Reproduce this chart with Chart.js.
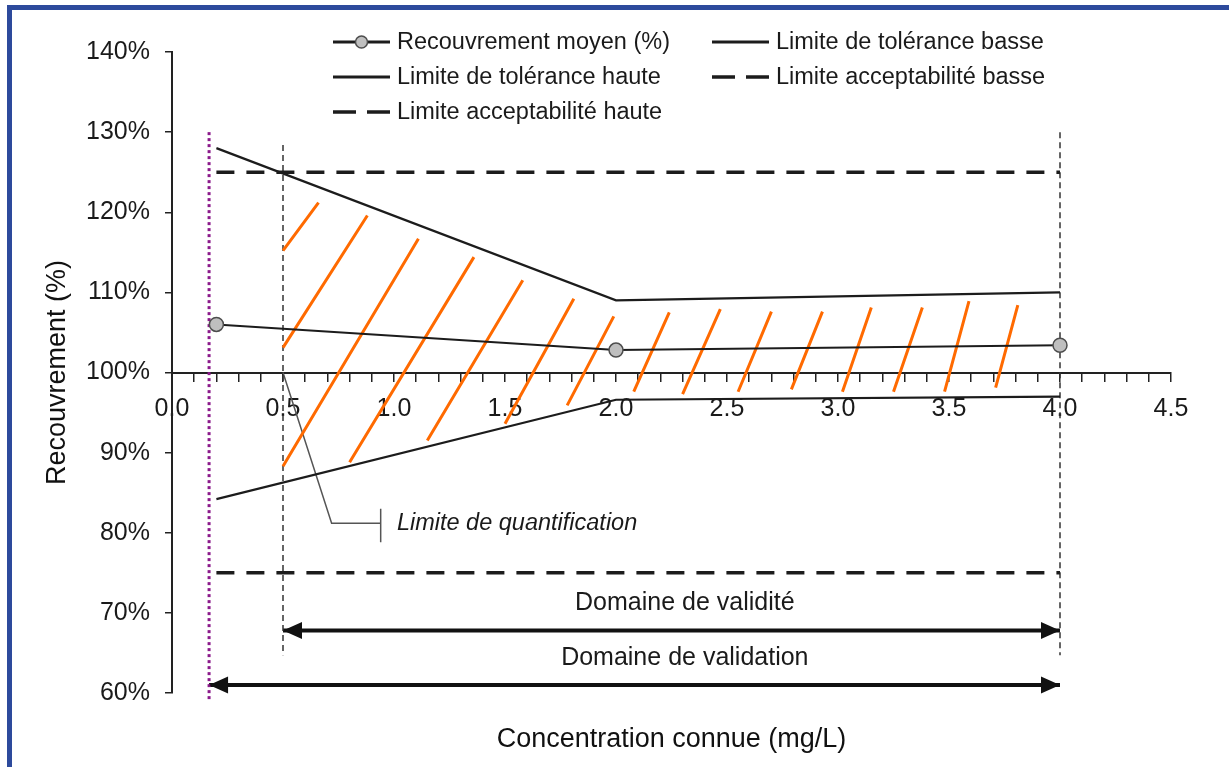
<!DOCTYPE html>
<html lang="fr">
<head>
<meta charset="utf-8">
<title>Profil d'exactitude</title>
<script src="https://cdn.jsdelivr.net/npm/chart.js@4.4.1/dist/chart.umd.min.js"></script>
<style>
    html, body { margin: 0; padding: 0; background: #fff; }
    #cadre { position: relative; width: 1229px; height: 767px; overflow: hidden; }
    #myChart { position: absolute; left: 0; top: 0; }
    #bord {
        position: absolute; left: 7px; top: 5px; right: -20px; bottom: -20px;
        border-top: 5px solid #2d4a9c; border-left: 5px solid #2d4a9c;
        pointer-events: none;
    }
</style>
</head>
<body>
<div id="cadre">
    <canvas id="myChart" width="1229" height="767"></canvas>
    <div id="bord"></div>
</div>
<script>
// valeurs
const concentrations = [0.2, 2.0, 4.0]
const recouvrementMoyen = [106.0, 102.8, 103.4]
const toleranceBasse = [84.2, 96.6, 97.0]
const toleranceHaute = [128.0, 109.0, 110.0]
const bornesAcceptabilite = [0.2, 4.0]
const acceptabiliteBasse = [75, 75]
const acceptabiliteHaute = [125, 125]
const yTicks = [60, 70, 80, 90, 100, 110, 120, 130, 140]

// traits verticaux (x, y haut, y bas)
const ligneLQ = [0.5, 128.4, 64.7]
const ligneFin = [4.0, 130, 64.7]
const ligneViolette = [0.167, 130, 59]

// fleches des domaines
const domaineValidite = [0.5, 4.0, 67.8]
const domaineValidation = [0.167, 4.0, 61.0]

// renvoi "limite de quantification"
const renvoiX = [0.5, 0.719, 0.94]
const renvoiY = [100, 81.2, 81.2]
const barreRenvoi = [0.94, 83.0, 78.8]

// hachures orange (debut, fin)
const hachuresDebut = [[0.50, 115.2], [0.50, 103.1], [0.50, 88.3], [0.80, 88.8], [1.15, 91.5], [1.50, 93.6], [1.78, 95.9],
    [2.08, 97.6], [2.30, 97.3], [2.55, 97.6], [2.79, 97.9], [3.02, 97.6], [3.25, 97.6], [3.48, 97.6], [3.71, 98.1]]
const hachuresFin = [[0.66, 121.2], [0.88, 119.6], [1.11, 116.7], [1.36, 114.4], [1.58, 111.5], [1.81, 109.2], [1.99, 107.0],
    [2.24, 107.5], [2.47, 107.9], [2.70, 107.6], [2.93, 107.6], [3.15, 108.1], [3.38, 108.1], [3.59, 108.9], [3.81, 108.4]]

const police = "'Liberation Sans', Arial, sans-serif"
const noir = '#1c1c1c'

function points(xs, ys) {
    return xs.map((x, i) => ({ x: x, y: ys[i] }))
}

let dataHachures = []
hachuresDebut.forEach((d, i) => {
    let f = hachuresFin[i]
    dataHachures.push({ x: d[0], y: d[1] }, { x: f[0], y: f[1] }, { x: f[0], y: null })
})

let dataRenvoi = points(renvoiX, renvoiY)
dataRenvoi.push({ x: barreRenvoi[0], y: null }, { x: barreRenvoi[0], y: barreRenvoi[1] }, { x: barreRenvoi[0], y: barreRenvoi[2] })

function verticale(l) {
    return [{ x: l[0], y: l[1] }, { x: l[0], y: l[2] }]
}

const datasets = [
    {
        label: 'Recouvrement moyen (%)',
        data: points(concentrations, recouvrementMoyen),
        borderColor: noir, borderWidth: 2,
        pointRadius: 7, pointBackgroundColor: '#bfbfbf', pointBorderColor: '#4d4d4d', pointBorderWidth: 1.5,
        legende: true
    },
    {
        label: 'Limite de tolérance basse',
        data: points(concentrations, toleranceBasse),
        borderColor: noir, borderWidth: 2.2, pointRadius: 0,
        legende: true
    },
    {
        label: 'Limite de tolérance haute',
        data: points(concentrations, toleranceHaute),
        borderColor: noir, borderWidth: 2.2, pointRadius: 0,
        legende: true
    },
    {
        label: 'Limite acceptabilité basse',
        data: points(bornesAcceptabilite, acceptabiliteBasse),
        borderColor: noir, borderWidth: 3.5, borderDash: [18, 12], pointRadius: 0,
        legende: true
    },
    {
        label: 'Limite acceptabilité haute',
        data: points(bornesAcceptabilite, acceptabiliteHaute),
        borderColor: noir, borderWidth: 3.5, borderDash: [18, 12], pointRadius: 0,
        legende: true
    },
    {
        label: 'hachures',
        data: dataHachures,
        borderColor: '#ff6a00', borderWidth: 3, pointRadius: 0, spanGaps: false
    },
    {
        label: 'LQ',
        data: verticale(ligneLQ),
        borderColor: '#333', borderWidth: 1.5, borderDash: [6, 4], pointRadius: 0
    },
    {
        label: 'fin',
        data: verticale(ligneFin),
        borderColor: '#333', borderWidth: 1.5, borderDash: [6, 4], pointRadius: 0
    },
    {
        label: 'violet',
        data: verticale(ligneViolette),
        borderColor: '#8b1a8b', borderWidth: 3, borderDash: [3, 3], pointRadius: 0, clip: false
    },
    {
        label: 'renvoi',
        data: dataRenvoi,
        borderColor: '#555', borderWidth: 1.5, pointRadius: 0, spanGaps: false
    },
    {
        label: 'Domaine de validité',
        data: [{ x: domaineValidite[0], y: domaineValidite[2] }, { x: domaineValidite[1], y: domaineValidite[2] }],
        borderColor: '#111', borderWidth: 4, pointRadius: 0, fleche: true
    },
    {
        label: 'Domaine de validation',
        data: [{ x: domaineValidation[0], y: domaineValidation[2] }, { x: domaineValidation[1], y: domaineValidation[2] }],
        borderColor: '#111', borderWidth: 4, pointRadius: 0, fleche: true
    }
]

const textes = [
    { texte: 'Limite de quantification', x: 1.013, y: 81.2, align: 'left', style: 'italic', taille: 23.5 },
    { texte: 'Domaine de validité', x: 2.31, y: 71.2, align: 'center', style: 'normal', taille: 25 },
    { texte: 'Domaine de validation', x: 2.31, y: 64.3, align: 'center', style: 'normal', taille: 25 }
]

// fleches au bout des domaines
const flechesPlugin = {
    id: 'fleches',
    afterDatasetsDraw(chart) {
        const ctx = chart.ctx
        chart.data.datasets.forEach((ds, i) => {
            if (!ds.fleche) return
            let pts = chart.getDatasetMeta(i).data
            let a = pts[0], b = pts[pts.length - 1]
            ctx.save()
            ctx.fillStyle = '#111'
            ctx.beginPath()
            ctx.moveTo(a.x, a.y); ctx.lineTo(a.x + 19, a.y - 8.5); ctx.lineTo(a.x + 19, a.y + 8.5); ctx.closePath()
            ctx.moveTo(b.x, b.y); ctx.lineTo(b.x - 19, b.y - 8.5); ctx.lineTo(b.x - 19, b.y + 8.5); ctx.closePath()
            ctx.fill()
            ctx.restore()
        })
    }
}

const textesPlugin = {
    id: 'textes',
    afterDatasetsDraw(chart) {
        const ctx = chart.ctx
        const sx = chart.scales.x, sy = chart.scales.y
        ctx.save()
        ctx.fillStyle = '#1a1a1a'
        ctx.textBaseline = 'middle'
        for (let t of textes) {
            ctx.font = t.style + ' ' + t.taille + 'px ' + police
            ctx.textAlign = t.align
            ctx.fillText(t.texte, sx.getPixelForValue(t.x), sy.getPixelForValue(t.y))
        }
        ctx.restore()
    }
}

// legende sur deux colonnes
const legendePlugin = {
    id: 'legende2col',
    afterDraw(chart) {
        const ctx = chart.ctx
        const colonnes = [333, 712]
        const lignes = [42, 77, 112]
        const longueur = 57
        let items = chart.data.datasets.filter(ds => ds.legende)
        ctx.save()
        items.forEach((ds, i) => {
            let x = colonnes[i % 2]
            let y = lignes[Math.floor(i / 2)]
            ctx.strokeStyle = ds.borderColor
            ctx.lineWidth = ds.borderDash ? ds.borderWidth : 3
            ctx.setLineDash(ds.borderDash ? [23, 11] : [])
            ctx.beginPath()
            ctx.moveTo(x, y); ctx.lineTo(x + longueur, y)
            ctx.stroke()
            ctx.setLineDash([])
            if (ds.pointRadius > 0) {
                ctx.beginPath()
                ctx.arc(x + longueur / 2, y, 6, 0, Math.PI * 2)
                ctx.fillStyle = ds.pointBackgroundColor
                ctx.fill()
                ctx.lineWidth = ds.pointBorderWidth
                ctx.strokeStyle = ds.pointBorderColor
                ctx.stroke()
            }
            ctx.fillStyle = '#1a1a1a'
            ctx.font = '23.5px ' + police
            ctx.textAlign = 'left'
            ctx.textBaseline = 'middle'
            ctx.fillText(ds.label, x + longueur + 7, y + 1)
        })
        ctx.restore()
    }
}

Chart.defaults.font.family = police

const ctx = document.getElementById('myChart').getContext('2d')
const myChart = new Chart(ctx, {
    type: 'line',
    data: { datasets: datasets },
    options: {
        responsive: false,
        animation: false,
        events: [],
        layout: { padding: { left: 0, right: 58, top: 52, bottom: 3.6 } },
        plugins: {
            legend: { display: false },
            tooltip: { enabled: false },
            title: {
                display: true,
                text: 'Concentration connue (mg/L)',
                position: 'bottom',
                fullSize: false,
                color: '#111',
                font: { size: 27, weight: 'normal' },
                padding: { top: 30, bottom: 8 }
            }
        },
        scales: {
            x: {
                type: 'linear',
                position: { y: 100 },
                min: 0, max: 4.5,
                grid: { drawOnChartArea: false, drawTicks: true, tickLength: 8, color: '#222', lineWidth: 1.5 },
                border: { color: '#222', width: 2 },
                ticks: {
                    stepSize: 0.1,
                    autoSkip: false,
                    maxRotation: 0,
                    padding: 14,
                    color: '#1a1a1a',
                    font: { size: 25 },
                    callback: v => Math.round(v * 10) % 5 === 0 ? v.toFixed(1) : ''
                }
            },
            y: {
                min: 60, max: 140,
                afterFit: scale => { scale.width = 172 },
                afterBuildTicks: scale => { scale.ticks = yTicks.map(v => ({ value: v })) },
                grid: { drawOnChartArea: false, drawTicks: true, tickLength: 7, color: '#222', lineWidth: 1.5 },
                border: { color: '#222', width: 2 },
                ticks: {
                    padding: 15,
                    color: '#1a1a1a',
                    font: { size: 25 },
                    callback: v => v + '%'
                },
                title: {
                    display: true,
                    text: 'Recouvrement (%)',
                    color: '#111',
                    font: { size: 27 },
                    padding: { top: 41, bottom: 0 }
                }
            }
        }
    },
    plugins: [flechesPlugin, textesPlugin, legendePlugin]
})
</script>
</body>
</html>
